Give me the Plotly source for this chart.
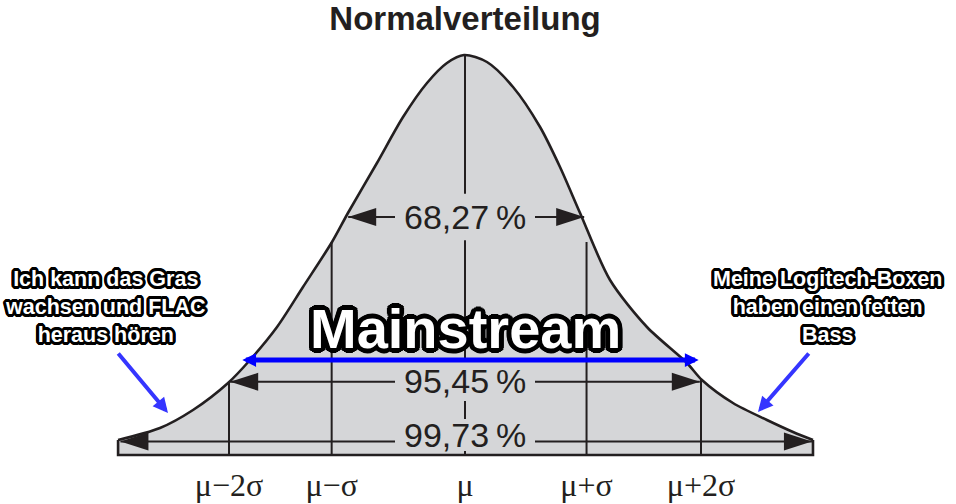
import math
import plotly.graph_objects as go

# ---------------- data ----------------
title_text = "Normalverteilung"

# bell curve (x in sigma units, y relative to the peak height)
curve_x = [-2.94, -2.585, -2.305, -2.008, -1.822, -1.593, -1.373, -1.127, -0.992,
           -0.746, -0.525, -0.322, -0.153, -0.008, 0.186, 0.407, 0.636, 0.805,
           0.975, 1.229, 1.542, 1.881, 2.008, 2.271, 2.559, 2.78, 2.949]
curve_y = [0.0375, 0.0675, 0.1125, 0.18, 0.2375, 0.32, 0.42, 0.5325, 0.605,
           0.73, 0.845, 0.93, 0.98, 1.0, 0.9825, 0.92, 0.82, 0.72,
           0.605, 0.4375, 0.32, 0.23, 0.1875, 0.13, 0.0875, 0.0575, 0.0375]

# vertical sigma lines and x tick labels
sigma_x = [-2.0, -1.13, 0.0, 1.03, 2.0]
sigma_labels = ["μ−2σ", "μ−σ", "μ", "μ+σ", "μ+2σ"]
sigma_tops = [0.18, 0.5325, 1.0, 0.5325, 0.1875]

# percentage bands
band_labels = ["68,27\u2009%", "95,45\u2009%", "99,73\u2009%"]
band_left = [-0.99, -1.99, -2.92]
band_right = [1.01, 1.99, 2.94]
band_y = [0.595, 0.183, 0.034]
band_text_y = [0.595, 0.185, 0.05]

# meme overlay
main_text = "Mainstream"
main_text_y = 0.3175
main_arrow_x = [-1.90, 1.98]
main_arrow_y = 0.2375

left_note = "Ich kann das Gras<br>wachsen und FLAC<br>heraus hören"
left_note_xy = (-3.055, 0.37)
left_arrow_from = (-2.949, 0.2575)
left_arrow_to = (-2.517, 0.105)

right_note = "Meine Logitech-Boxen<br>haben einen fetten<br>Bass"
right_note_xy = (3.068, 0.37)
right_arrow_from = (2.924, 0.2575)
right_arrow_to = (2.483, 0.1075)

# ---------------- styling ----------------
INK = "#231f20"
FILL = "#d5d6d8"
BLUE = "#0000ff"
BLUE2 = "#3535ff"
SANS = "Liberation Sans, Arial, sans-serif"
SERIF = "Liberation Serif, Times New Roman, serif"

W, H = 956, 504
PX_X = 118.0   # pixels per sigma
PX_Y = 400.0   # pixels per unit height
X_MU = 465.0
Y_BASE = 455.0
BOTTOM_PAD = 8.0


def outline(r, n=16, color="#000"):
    parts = []
    for rr in (r, r * 0.55):
        for k in range(n):
            a = 2 * math.pi * k / n
            parts.append(f"{rr*math.cos(a):.1f}px {rr*math.sin(a):.1f}px 0 {color}")
    return ", ".join(parts)


fig = go.Figure()

# filled bell curve
fig.add_trace(go.Scatter(
    x=curve_x, y=curve_y, mode="lines", line=dict(color=INK, width=2.6, shape="spline", smoothing=0.8),
    fill="tozeroy", fillcolor=FILL, hoverinfo="skip", showlegend=False))

# base strip outline
fig.add_trace(go.Scatter(
    x=[curve_x[0], curve_x[0], curve_x[-1], curve_x[-1]],
    y=[curve_y[0], 0, 0, curve_y[-1]],
    mode="lines", line=dict(color=INK, width=2.6), hoverinfo="skip", showlegend=False))

shapes = []
LW = 2.0

# sigma lines (except mu, drawn with gaps)
for sx, top in zip(sigma_x, sigma_tops):
    if sx == 0.0:
        continue
    shapes.append(dict(type="line", x0=sx, x1=sx, y0=0, y1=top,
                       line=dict(color=INK, width=LW), layer="above"))

# mu line, interrupted by the percentage labels
gap_y = [0.058, 0.05, 0.04]
mu_top = sigma_tops[sigma_x.index(0.0)]
edges = [mu_top]
for ty, g in zip(band_text_y, gap_y):
    edges += [ty + g, ty - g]
edges.append(0.0)
for i in range(0, len(edges), 2):
    y_hi, y_lo = edges[i], max(edges[i + 1], 0.0)
    if y_hi > y_lo:
        shapes.append(dict(type="line", x0=0, x1=0, y0=y_lo, y1=y_hi,
                           line=dict(color=INK, width=LW), layer="above"))

# band arrows with a gap for the label
GAP_X = 70.0 / PX_X
AH_L, AH_W = 28, 9
for xl, xr, by in zip(band_left, band_right, band_y):
    shapes.append(dict(type="line", x0=xl, x1=-GAP_X, y0=by, y1=by,
                       line=dict(color=INK, width=LW), layer="above"))
    shapes.append(dict(type="line", x0=GAP_X, x1=xr, y0=by, y1=by,
                       line=dict(color=INK, width=LW), layer="above"))
    shapes.append(dict(type="path", xsizemode="pixel", ysizemode="pixel",
                       xanchor=xl, yanchor=by,
                       path=f"M0,0 L{AH_L},{AH_W} L{AH_L},{-AH_W} Z",
                       fillcolor=INK, line=dict(width=0), layer="above"))
    shapes.append(dict(type="path", xsizemode="pixel", ysizemode="pixel",
                       xanchor=xr, yanchor=by,
                       path=f"M0,0 L{-AH_L},{AH_W} L{-AH_L},{-AH_W} Z",
                       fillcolor=INK, line=dict(width=0), layer="above"))

annotations = []
for lab, ty in zip(band_labels, band_text_y):
    annotations.append(dict(x=0, y=ty, text=lab, showarrow=False, xanchor="center", yanchor="middle",
                            font=dict(family=SANS, size=34, color=INK)))

# blue mainstream arrow (both ends)
annotations.append(dict(x=main_arrow_x[1], y=main_arrow_y, ax=main_arrow_x[0], ay=main_arrow_y,
                        axref="x", ayref="y", xref="x", yref="y", text="", showarrow=True,
                        arrowside="end+start", arrowhead=2, startarrowhead=2,
                        arrowsize=0.55, startarrowsize=0.55, arrowwidth=5, arrowcolor=BLUE,
                        standoff=0, startstandoff=0))

# note arrows
for (fx, fy), (tx, ty) in [(left_arrow_from, left_arrow_to), (right_arrow_from, right_arrow_to)]:
    annotations.append(dict(x=tx, y=ty, ax=fx, ay=fy, axref="x", ayref="y", xref="x", yref="y",
                            text="", showarrow=True, arrowhead=2, arrowsize=0.75, arrowwidth=4,
                            arrowcolor=BLUE2, standoff=0))

# meme texts
annotations.append(dict(x=0, y=main_text_y, text=f"<b>{main_text}</b>", showarrow=False,
                        xanchor="center", yanchor="middle",
                        font=dict(family=SANS, size=56, color="white", shadow=outline(4.8))))
for txt, (nx, ny) in [(left_note, left_note_xy), (right_note, right_note_xy)]:
    annotations.append(dict(x=nx, y=ny, text=f"<b>{txt}</b>", showarrow=False,
                            xanchor="center", yanchor="middle", align="center",
                            font=dict(family=SANS, size=21.5, color="white", shadow=outline(3.0))))

x_range = [-X_MU / PX_X, (W - X_MU) / PX_X]
y_range = [-BOTTOM_PAD / PX_Y, Y_BASE / PX_Y]
b_margin = H - (Y_BASE + BOTTOM_PAD)

fig.update_layout(
    width=W, height=H,
    margin=dict(l=0, r=0, t=0, b=b_margin),
    paper_bgcolor="white", plot_bgcolor="white",
    title=dict(text=f"<b>{title_text}</b>", x=X_MU / W, xanchor="center",
               y=1 - 18 / H, yanchor="middle", yref="container",
               font=dict(family=SANS, size=33, color=INK)),
    xaxis=dict(range=x_range, fixedrange=True, showgrid=False, zeroline=False, showline=False,
               ticks="", tickvals=sigma_x, ticktext=sigma_labels, ticklabelstandoff=0,
               tickfont=dict(family=SERIF, size=32, color=INK)),
    yaxis=dict(range=y_range, fixedrange=True, visible=False),
    shapes=shapes, annotations=annotations, showlegend=False,
)

fig.write_html("out.html", config={"displayModeBar": False},
               post_script="document.body.style.margin='0';document.body.style.overflow='hidden';")
